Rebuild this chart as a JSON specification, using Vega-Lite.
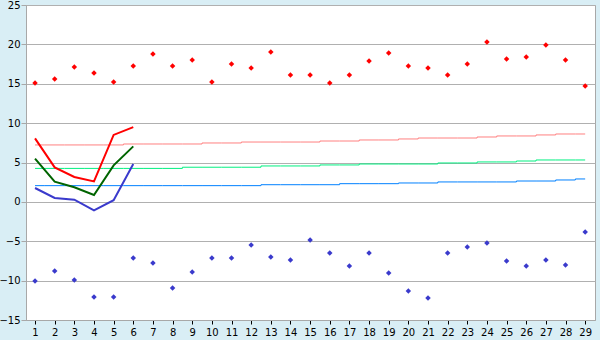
{
  "$schema": "https://vega.github.io/schema/vega-lite/v6.json",
  "width": 569,
  "height": 315,
  "autosize": {"type": "none"},
  "padding": {"left": 26, "top": 5, "right": 5, "bottom": 20},
  "background": "#d9eef5",
  "config": {
    "view": {"fill": "white", "stroke": "#a8a8a8", "strokeWidth": 1},
    "font": "DejaVu Sans",
    "axis": {"labelFont": "DejaVu Sans", "labelFontSize": 10, "labelColor": "black"}
  },
  "datasets": {
    "normals": [
      {"day": 1, "series": "nmax", "value": 7.23}, {"day": 2, "series": "nmax", "value": 7.23}, {"day": 3, "series": "nmax", "value": 7.23}, {"day": 4, "series": "nmax", "value": 7.23}, {"day": 5, "series": "nmax", "value": 7.23},
      {"day": 6, "series": "nmax", "value": 7.35}, {"day": 7, "series": "nmax", "value": 7.35}, {"day": 8, "series": "nmax", "value": 7.35}, {"day": 9, "series": "nmax", "value": 7.35},
      {"day": 10, "series": "nmax", "value": 7.48}, {"day": 11, "series": "nmax", "value": 7.48},
      {"day": 12, "series": "nmax", "value": 7.6}, {"day": 13, "series": "nmax", "value": 7.6}, {"day": 14, "series": "nmax", "value": 7.6}, {"day": 15, "series": "nmax", "value": 7.6},
      {"day": 16, "series": "nmax", "value": 7.73}, {"day": 17, "series": "nmax", "value": 7.73},
      {"day": 18, "series": "nmax", "value": 7.86}, {"day": 19, "series": "nmax", "value": 7.86},
      {"day": 20, "series": "nmax", "value": 7.99},
      {"day": 21, "series": "nmax", "value": 8.11}, {"day": 22, "series": "nmax", "value": 8.11}, {"day": 23, "series": "nmax", "value": 8.11},
      {"day": 24, "series": "nmax", "value": 8.24},
      {"day": 25, "series": "nmax", "value": 8.37}, {"day": 26, "series": "nmax", "value": 8.37},
      {"day": 27, "series": "nmax", "value": 8.5},
      {"day": 28, "series": "nmax", "value": 8.62}, {"day": 29, "series": "nmax", "value": 8.62},

      {"day": 1, "series": "nmean", "value": 4.25}, {"day": 2, "series": "nmean", "value": 4.25}, {"day": 3, "series": "nmean", "value": 4.25}, {"day": 4, "series": "nmean", "value": 4.25}, {"day": 5, "series": "nmean", "value": 4.25}, {"day": 6, "series": "nmean", "value": 4.25}, {"day": 7, "series": "nmean", "value": 4.25}, {"day": 8, "series": "nmean", "value": 4.25},
      {"day": 9, "series": "nmean", "value": 4.4}, {"day": 10, "series": "nmean", "value": 4.4}, {"day": 11, "series": "nmean", "value": 4.4}, {"day": 12, "series": "nmean", "value": 4.4},
      {"day": 13, "series": "nmean", "value": 4.56}, {"day": 14, "series": "nmean", "value": 4.56}, {"day": 15, "series": "nmean", "value": 4.56},
      {"day": 16, "series": "nmean", "value": 4.69}, {"day": 17, "series": "nmean", "value": 4.69},
      {"day": 18, "series": "nmean", "value": 4.81}, {"day": 19, "series": "nmean", "value": 4.81}, {"day": 20, "series": "nmean", "value": 4.81}, {"day": 21, "series": "nmean", "value": 4.81},
      {"day": 22, "series": "nmean", "value": 4.94}, {"day": 23, "series": "nmean", "value": 4.94},
      {"day": 24, "series": "nmean", "value": 5.07}, {"day": 25, "series": "nmean", "value": 5.07},
      {"day": 26, "series": "nmean", "value": 5.19},
      {"day": 27, "series": "nmean", "value": 5.32}, {"day": 28, "series": "nmean", "value": 5.32}, {"day": 29, "series": "nmean", "value": 5.32},

      {"day": 1, "series": "nmin", "value": 2.06}, {"day": 2, "series": "nmin", "value": 2.06}, {"day": 3, "series": "nmin", "value": 2.06}, {"day": 4, "series": "nmin", "value": 2.06}, {"day": 5, "series": "nmin", "value": 2.06}, {"day": 6, "series": "nmin", "value": 2.06}, {"day": 7, "series": "nmin", "value": 2.06}, {"day": 8, "series": "nmin", "value": 2.06}, {"day": 9, "series": "nmin", "value": 2.06}, {"day": 10, "series": "nmin", "value": 2.06}, {"day": 11, "series": "nmin", "value": 2.06}, {"day": 12, "series": "nmin", "value": 2.06},
      {"day": 13, "series": "nmin", "value": 2.18}, {"day": 14, "series": "nmin", "value": 2.18}, {"day": 15, "series": "nmin", "value": 2.18}, {"day": 16, "series": "nmin", "value": 2.18},
      {"day": 17, "series": "nmin", "value": 2.31}, {"day": 18, "series": "nmin", "value": 2.31}, {"day": 19, "series": "nmin", "value": 2.31},
      {"day": 20, "series": "nmin", "value": 2.4}, {"day": 21, "series": "nmin", "value": 2.4},
      {"day": 22, "series": "nmin", "value": 2.53}, {"day": 23, "series": "nmin", "value": 2.53}, {"day": 24, "series": "nmin", "value": 2.53}, {"day": 25, "series": "nmin", "value": 2.53},
      {"day": 26, "series": "nmin", "value": 2.65}, {"day": 27, "series": "nmin", "value": 2.65},
      {"day": 28, "series": "nmin", "value": 2.78},
      {"day": 29, "series": "nmin", "value": 2.91}
    ],
    "obs": [
      {"day": 1, "series": "max", "value": 8.07}, {"day": 2, "series": "max", "value": 4.38}, {"day": 3, "series": "max", "value": 3.16}, {"day": 4, "series": "max", "value": 2.6}, {"day": 5, "series": "max", "value": 8.5}, {"day": 6, "series": "max", "value": 9.5},
      {"day": 1, "series": "mean", "value": 5.49}, {"day": 2, "series": "mean", "value": 2.57}, {"day": 3, "series": "mean", "value": 1.85}, {"day": 4, "series": "mean", "value": 0.87}, {"day": 5, "series": "mean", "value": 4.64}, {"day": 6, "series": "mean", "value": 7.05},
      {"day": 1, "series": "min", "value": 1.76}, {"day": 2, "series": "min", "value": 0.49}, {"day": 3, "series": "min", "value": 0.28}, {"day": 4, "series": "min", "value": -1.08}, {"day": 5, "series": "min", "value": 0.22}, {"day": 6, "series": "min", "value": 4.81}
    ],
    "records": [
      {"day": 1, "series": "rmax", "value": 15.1}, {"day": 2, "series": "rmax", "value": 15.6}, {"day": 3, "series": "rmax", "value": 17.13}, {"day": 4, "series": "rmax", "value": 16.37}, {"day": 5, "series": "rmax", "value": 15.22}, {"day": 6, "series": "rmax", "value": 17.26}, {"day": 7, "series": "rmax", "value": 18.78}, {"day": 8, "series": "rmax", "value": 17.26}, {"day": 9, "series": "rmax", "value": 18.02},
      {"day": 10, "series": "rmax", "value": 15.22}, {"day": 11, "series": "rmax", "value": 17.51}, {"day": 12, "series": "rmax", "value": 17.0}, {"day": 13, "series": "rmax", "value": 19.03}, {"day": 14, "series": "rmax", "value": 16.11}, {"day": 15, "series": "rmax", "value": 16.11}, {"day": 16, "series": "rmax", "value": 15.1}, {"day": 17, "series": "rmax", "value": 16.11}, {"day": 18, "series": "rmax", "value": 17.89}, {"day": 19, "series": "rmax", "value": 18.9},
      {"day": 20, "series": "rmax", "value": 17.26}, {"day": 21, "series": "rmax", "value": 17.0}, {"day": 22, "series": "rmax", "value": 16.11}, {"day": 23, "series": "rmax", "value": 17.51}, {"day": 24, "series": "rmax", "value": 20.3}, {"day": 25, "series": "rmax", "value": 18.14}, {"day": 26, "series": "rmax", "value": 18.4}, {"day": 27, "series": "rmax", "value": 19.92}, {"day": 28, "series": "rmax", "value": 18.02}, {"day": 29, "series": "rmax", "value": 14.72},
      {"day": 1, "series": "rmin", "value": -10.05}, {"day": 2, "series": "rmin", "value": -8.78}, {"day": 3, "series": "rmin", "value": -9.92}, {"day": 4, "series": "rmin", "value": -12.08}, {"day": 5, "series": "rmin", "value": -12.08}, {"day": 6, "series": "rmin", "value": -7.13}, {"day": 7, "series": "rmin", "value": -7.76}, {"day": 8, "series": "rmin", "value": -10.94}, {"day": 9, "series": "rmin", "value": -8.9},
      {"day": 10, "series": "rmin", "value": -7.13}, {"day": 11, "series": "rmin", "value": -7.13}, {"day": 12, "series": "rmin", "value": -5.48}, {"day": 13, "series": "rmin", "value": -7.0}, {"day": 14, "series": "rmin", "value": -7.38}, {"day": 15, "series": "rmin", "value": -4.84}, {"day": 16, "series": "rmin", "value": -6.49}, {"day": 17, "series": "rmin", "value": -8.14}, {"day": 18, "series": "rmin", "value": -6.49}, {"day": 19, "series": "rmin", "value": -9.03},
      {"day": 20, "series": "rmin", "value": -11.32}, {"day": 21, "series": "rmin", "value": -12.2}, {"day": 22, "series": "rmin", "value": -6.49}, {"day": 23, "series": "rmin", "value": -5.73}, {"day": 24, "series": "rmin", "value": -5.22}, {"day": 25, "series": "rmin", "value": -7.5}, {"day": 26, "series": "rmin", "value": -8.14}, {"day": 27, "series": "rmin", "value": -7.38}, {"day": 28, "series": "rmin", "value": -8.01}, {"day": 29, "series": "rmin", "value": -3.82}
    ]
  },
  "encoding": {
    "x": {
      "field": "day", "type": "quantitative",
      "scale": {"domain": [0.54, 29.5], "nice": false, "zero": false},
      "axis": {
        "title": null, "values": [1,2,3,4,5,6,7,8,9,10,11,12,13,14,15,16,17,18,19,20,21,22,23,24,25,26,27,28,29],
        "grid": false, "domainColor": "#a8a8a8", "tickColor": "black", "tickSize": 4, "labelPadding": 3, "labelFlush": false
      }
    },
    "y": {
      "field": "value", "type": "quantitative",
      "scale": {"domain": [-15, 25], "nice": false, "zero": false},
      "axis": {
        "title": null, "values": [-15,-10,-5,0,5,10,15,20,25],
        "grid": true, "gridColor": "#b0b0b0", "gridOpacity": 1, "domainColor": "#a8a8a8", "tickColor": "#a8a8a8", "tickSize": 5, "labelPadding": 1
      }
    },
    "color": {
      "field": "series", "type": "nominal", "legend": null,
      "scale": {
        "domain": ["nmax", "nmean", "nmin", "max", "mean", "min", "rmax", "rmin"],
        "range": ["#ff8080", "#00f080", "#0080ff", "#ff0000", "#006400", "#3a3acc", "#ff0000", "#3a3acc"]
      }
    }
  },
  "layer": [
    {
      "data": {"name": "normals"},
      "mark": {"type": "line", "interpolate": "step", "strokeWidth": 1},
      "encoding": {}
    },
    {
      "data": {"name": "obs"},
      "mark": {"type": "line", "strokeWidth": 2},
      "encoding": {}
    },
    {
      "data": {"name": "records"},
      "mark": {"type": "point", "shape": "diamond", "filled": true, "size": 30, "opacity": 1},
      "encoding": {}
    }
  ]
}
